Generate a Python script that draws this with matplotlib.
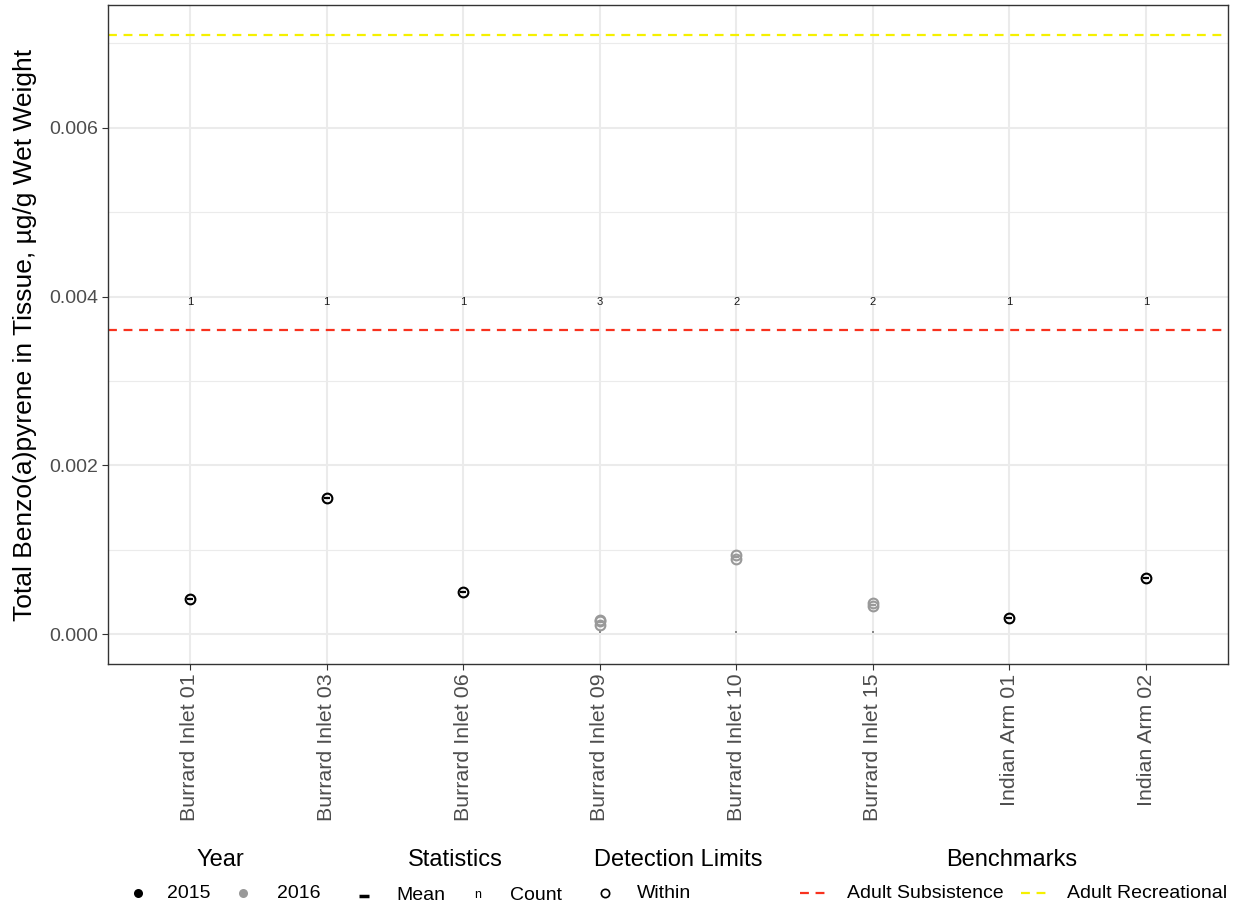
import numpy as np
import matplotlib
matplotlib.use("Agg")
import matplotlib.pyplot as plt
from matplotlib.lines import Line2D
from matplotlib.ticker import MultipleLocator
from matplotlib.transforms import blended_transform_factory

plt.rcParams['font.family'] = ['Liberation Sans', 'DejaVu Sans']

# Sampling sites and measured concentrations (µg/g wet weight)
sites = ["Burrard Inlet 01", "Burrard Inlet 03", "Burrard Inlet 06", "Burrard Inlet 09",
         "Burrard Inlet 10", "Burrard Inlet 15", "Indian Arm 01", "Indian Arm 02"]
years = [2015, 2015, 2015, 2016, 2016, 2016, 2015, 2015]
values = [
    [0.00041],
    [0.00161],
    [0.00050],
    [0.00011, 0.00015, 0.00017],
    [0.00089, 0.00094],
    [0.00033, 0.00037],
    [0.00019],
    [0.00066],
]
counts = [1, 1, 1, 3, 2, 2, 1, 1]
low_marks = [None, None, None, 0.00002, 0.00002, 0.00002, None, None]
count_label_y = 0.00393
subsistence = 0.0036
recreational = 0.0071

year_colors = {2015: "#000000", 2016: "#999999"}
RED = "#F8321E"
YELLOW = "#F5F000"

W, H = 1238, 905
fig = plt.figure(figsize=(W / 100, H / 100), dpi=100)
ax = fig.add_axes([108 / W, 1 - 664 / H, 1120 / W, 659 / H])

x = np.arange(1, len(sites) + 1)

# benchmark lines
ax.axhline(subsistence, color=RED, ls=(0, (4, 3)), lw=1.6, zorder=2)
ax.axhline(recreational, color=YELLOW, ls=(0, (4, 3)), lw=1.6, zorder=2)

for xi, yr, vals, n, lm in zip(x, years, values, counts, low_marks):
    c = year_colors[yr]
    ax.plot([xi] * len(vals), vals, ls="none", marker="o", ms=7.0,
            mfc="none", mec=c, mew=1.5, zorder=4)
    ax.plot([xi], [np.mean(vals)], ls="none", marker="_", ms=5,
            mew=1.6, color=c, zorder=5)
    if lm is not None:
        ax.plot([xi], [lm], ls="none", marker="s", ms=1.6, color="#888888",
                mew=0, zorder=3)
    ax.text(xi, count_label_y, str(n), ha="center", va="center",
            fontsize=8, color="#1a1a1a")

ax.set_xlim(0.4, len(sites) + 0.6)
ax.set_ylim(-0.000355, 0.007455)
ax.set_xticks(x)
ax.set_xticklabels(sites, rotation=90, fontsize=15.4, color="#4D4D4D")
ax.yaxis.set_minor_locator(MultipleLocator(0.001))
ax.set_yticks([0, 0.002, 0.004, 0.006])
ax.set_yticklabels(["0.000", "0.002", "0.004", "0.006"], fontsize=14, color="#4D4D4D")
ax.tick_params(axis="both", which="major", length=4, width=0.8, color="#333333", pad=3)
ax.tick_params(axis="y", which="minor", length=0)

ax.grid(True, which="major", axis="both", color="#EBEBEB", lw=1.5, zorder=0)
ax.grid(True, which="minor", axis="y", color="#EBEBEB", lw=0.8, zorder=0)
ax.set_axisbelow(True)
for s in ax.spines.values():
    s.set_color("#333333")
    s.set_linewidth(1.0)

ax.set_ylabel("Total Benzo(a)pyrene in Tissue, µg/g Wet Weight", fontsize=19)
ax.yaxis.set_label_coords(37 / W, 0.5,
                          transform=blended_transform_factory(fig.transFigure, ax.transAxes))

# legend keys and labels along the bottom (pixel positions)
def fx(px):
    return px / W

def fy(py):
    return 1 - py / H

def title(text, cx):
    fig.text(fx(cx), fy(860), text, ha="center", va="center", fontsize=17)

def label(text, left, cy=893, size=14):
    fig.text(fx(left), fy(cy), text, ha="left", va="center", fontsize=size)

def marker_key(cx, cy=893, **kw):
    fig.add_artist(Line2D([fx(cx)], [fy(cy)], transform=fig.transFigure, ls="none", **kw))

def dash_key(x0, x1, color, cy=893):
    fig.add_artist(Line2D([fx(x0), fx(x1)], [fy(cy), fy(cy)], transform=fig.transFigure,
                          color=color, ls=(0, (4, 3)), lw=1.6))

title("Year", 220)
marker_key(138, marker="o", ms=6.5, color=year_colors[2015], mew=0)
label("2015", 167)
marker_key(243, marker="o", ms=6.5, color=year_colors[2016], mew=0)
label("2016", 277)

title("Statistics", 455)
marker_key(364, cy=896, marker="_", ms=7, mew=2.5, color="#000000")
label("Mean", 396, cy=895)
fig.text(fx(478), fy(895), "n", ha="center", va="center", fontsize=9)
label("Count", 510, cy=895)

title("Detection Limits", 678)
marker_key(605, marker="o", ms=6, mfc="none", mec="#000000", mew=1.2)
label("Within", 637)

title("Benchmarks", 1012)
dash_key(800, 830, RED)
label("Adult Subsistence", 847)
dash_key(1021, 1051, YELLOW)
label("Adult Recreational", 1067)

fig.savefig("out.png", dpi=100)
